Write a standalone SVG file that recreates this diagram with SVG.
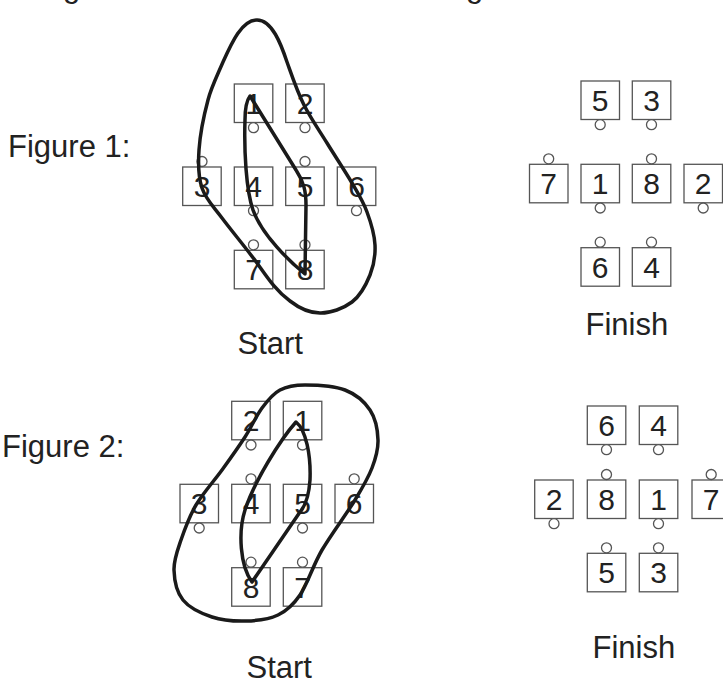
<svg xmlns="http://www.w3.org/2000/svg" width="723" height="685" viewBox="0 0 723 685">
<style>
.box{fill:#fff;stroke:#555;stroke-width:1.3}
.pin{fill:#fff;stroke:#555;stroke-width:1.3}
.num{font-family:"Liberation Sans",Arial,sans-serif;font-size:30px;fill:#222;text-anchor:middle}
.lbl{font-family:"Liberation Sans",Arial,sans-serif;font-size:31px;fill:#222}
.loop{fill:none;stroke:#1a1a1a;stroke-width:3.5;stroke-linejoin:round;stroke-linecap:round}
</style>
<rect width="723" height="685" fill="#fff"/>
<text class="lbl" x="63" y="-3.5">g</text>
<text class="lbl" x="466" y="-3.5">g</text>
<text class="lbl" x="8" y="157">Figure 1:</text>
<text class="lbl" x="2" y="457">Figure 2:</text>
<text class="lbl" x="237.5" y="354">Start</text>
<text class="lbl" x="585.5" y="335">Finish</text>
<text class="lbl" x="246.5" y="678">Start</text>
<text class="lbl" x="592.5" y="658">Finish</text>

<!-- Figure 1 start -->
<g id="f1s-1"><rect class="box" x="234.3" y="84" width="38.5" height="38.5"/><text class="num" x="253.5" y="114">1</text><circle class="pin" cx="253.5" cy="127.7" r="5"/></g>
<g id="f1s-2"><rect class="box" x="285.7" y="84" width="38.5" height="38.5"/><text class="num" x="305" y="114">2</text><circle class="pin" cx="305" cy="127.7" r="5"/></g>
<g id="f1s-3"><rect class="box" x="182.7" y="167" width="38.5" height="38.5"/><text class="num" x="202" y="197">3</text><circle class="pin" cx="202" cy="161.5" r="5"/></g>
<g id="f1s-4"><rect class="box" x="234.3" y="167" width="38.5" height="38.5"/><text class="num" x="253.5" y="197">4</text><circle class="pin" cx="253.5" cy="210.7" r="5"/></g>
<g id="f1s-5"><rect class="box" x="285.7" y="167" width="38.5" height="38.5"/><text class="num" x="305" y="197">5</text><circle class="pin" cx="305" cy="161.5" r="5"/></g>
<g id="f1s-6"><rect class="box" x="337.3" y="167" width="38.5" height="38.5"/><text class="num" x="356.5" y="197">6</text><circle class="pin" cx="356.5" cy="210.7" r="5"/></g>
<g id="f1s-7"><rect class="box" x="234.3" y="250.3" width="38.5" height="38.5"/><text class="num" x="253.5" y="280.3">7</text><circle class="pin" cx="253.5" cy="244.8" r="5"/></g>
<g id="f1s-8"><rect class="box" x="285.7" y="250.3" width="38.5" height="38.5"/><text class="num" x="305" y="280.3">8</text><circle class="pin" cx="305" cy="244.8" r="5"/></g>

<!-- Figure 1 finish -->
<g id="f1f-5"><rect class="box" x="581" y="81" width="38.5" height="38.5"/><text class="num" x="600.2" y="111">5</text><circle class="pin" cx="600.2" cy="124.7" r="5"/></g>
<g id="f1f-3"><rect class="box" x="632.3" y="81" width="38.5" height="38.5"/><text class="num" x="651.5" y="111">3</text><circle class="pin" cx="651.5" cy="124.7" r="5"/></g>
<g id="f1f-7"><rect class="box" x="529.5" y="164.3" width="38.5" height="38.5"/><text class="num" x="548.7" y="194.3">7</text><circle class="pin" cx="548.7" cy="158.8" r="5"/></g>
<g id="f1f-1"><rect class="box" x="581" y="164.3" width="38.5" height="38.5"/><text class="num" x="600.2" y="194.3">1</text><circle class="pin" cx="600.2" cy="208" r="5"/></g>
<g id="f1f-8"><rect class="box" x="632.3" y="164.3" width="38.5" height="38.5"/><text class="num" x="651.5" y="194.3">8</text><circle class="pin" cx="651.5" cy="158.8" r="5"/></g>
<g id="f1f-2"><rect class="box" x="684" y="164.3" width="38.5" height="38.5"/><text class="num" x="703.2" y="194.3">2</text><circle class="pin" cx="703.2" cy="208" r="5"/></g>
<g id="f1f-6"><rect class="box" x="581" y="247.7" width="38.5" height="38.5"/><text class="num" x="600.2" y="277.7">6</text><circle class="pin" cx="600.2" cy="242.2" r="5"/></g>
<g id="f1f-4"><rect class="box" x="632.3" y="247.7" width="38.5" height="38.5"/><text class="num" x="651.5" y="277.7">4</text><circle class="pin" cx="651.5" cy="242.2" r="5"/></g>

<!-- Figure 2 start -->
<g id="f2s-2"><rect class="box" x="231.7" y="401.3" width="38.5" height="38.5"/><text class="num" x="251" y="431.3">2</text><circle class="pin" cx="251" cy="445" r="5"/></g>
<g id="f2s-1"><rect class="box" x="283.3" y="401.3" width="38.5" height="38.5"/><text class="num" x="302.5" y="431.3">1</text><circle class="pin" cx="302.5" cy="445" r="5"/></g>
<g id="f2s-3"><rect class="box" x="180" y="484.3" width="38.5" height="38.5"/><text class="num" x="199.2" y="514.3">3</text><circle class="pin" cx="199.2" cy="528" r="5"/></g>
<g id="f2s-4"><rect class="box" x="231.7" y="484.3" width="38.5" height="38.5"/><text class="num" x="251" y="514.3">4</text><circle class="pin" cx="251" cy="478.8" r="5"/></g>
<g id="f2s-5"><rect class="box" x="283.3" y="484.3" width="38.5" height="38.5"/><text class="num" x="302.5" y="514.3">5</text><circle class="pin" cx="302.5" cy="528" r="5"/></g>
<g id="f2s-6"><rect class="box" x="335" y="484.3" width="38.5" height="38.5"/><text class="num" x="354.2" y="514.3">6</text><circle class="pin" cx="354.2" cy="478.8" r="5"/></g>
<g id="f2s-8"><rect class="box" x="231.7" y="567.7" width="38.5" height="38.5"/><text class="num" x="251" y="597.7">8</text><circle class="pin" cx="251" cy="562.2" r="5"/></g>
<g id="f2s-7"><rect class="box" x="283.3" y="567.7" width="38.5" height="38.5"/><text class="num" x="302.5" y="597.7">7</text><circle class="pin" cx="302.5" cy="562.2" r="5"/></g>

<!-- Figure 2 finish -->
<g id="f2f-6"><rect class="box" x="587.3" y="406" width="38.5" height="38.5"/><text class="num" x="606.5" y="436">6</text><circle class="pin" cx="606.5" cy="449.7" r="5"/></g>
<g id="f2f-4"><rect class="box" x="639.3" y="406" width="38.5" height="38.5"/><text class="num" x="658.5" y="436">4</text><circle class="pin" cx="658.5" cy="449.7" r="5"/></g>
<g id="f2f-2"><rect class="box" x="534.7" y="480" width="38.5" height="38.5"/><text class="num" x="554" y="510">2</text><circle class="pin" cx="554" cy="523.7" r="5"/></g>
<g id="f2f-8"><rect class="box" x="587.3" y="480" width="38.5" height="38.5"/><text class="num" x="606.5" y="510">8</text><circle class="pin" cx="606.5" cy="474.5" r="5"/></g>
<g id="f2f-1"><rect class="box" x="639.3" y="480" width="38.5" height="38.5"/><text class="num" x="658.5" y="510">1</text><circle class="pin" cx="658.5" cy="523.7" r="5"/></g>
<g id="f2f-7"><rect class="box" x="692" y="480" width="38.5" height="38.5"/><text class="num" x="711.2" y="510">7</text><circle class="pin" cx="711.2" cy="474.5" r="5"/></g>
<g id="f2f-5"><rect class="box" x="587.3" y="553.3" width="38.5" height="38.5"/><text class="num" x="606.5" y="583.3">5</text><circle class="pin" cx="606.5" cy="547.8" r="5"/></g>
<g id="f2f-3"><rect class="box" x="639.3" y="553.3" width="38.5" height="38.5"/><text class="num" x="658.5" y="583.3">3</text><circle class="pin" cx="658.5" cy="547.8" r="5"/></g>

<g id="connectors">
<path class="loop" d="M208,100 C204,115 200,135.3 199,150 C198,164.7 198.2,176.7 202,188 C205.8,199.3 212.8,205.7 222,218 C231.2,230.3 246,248 257,263 C267,277 276,291 290,301 C299,308 309,313 320,313 C330.3,313.3 343.7,308.3 352,302 C360.3,295.7 366.2,284.5 370,275 C373.8,265.5 375.5,255.5 375,245 C374.5,234.5 370.8,222.3 367,212 C363.2,201.7 358.7,194.5 352,183 C345.3,171.5 335,156 327,143 C319,130 311,118.8 304,105 C297,91.2 292,76 287,62 C281,44 272,20 257,20 C242,20 232,42 223,62 C217,76 211,88 208,100 Z"/>
<path class="loop" d="M250,96 L296,170 C304,182 306,192 306,205 L305,274 C290,262 262,235 253,210 C246,190 244,150 245,120 C245,108 247,100 250,96 Z"/>
<path class="loop" d="M305,385 C315.8,385 334.2,385.8 345,390 C355.8,394.2 364.5,401.7 370,410 C375.5,418.3 377.7,430.3 378,440 C378.3,449.7 375.8,458 372,468 C368.2,478 363.3,486.3 355,500 C346.7,513.7 331.2,534.2 322,550 C312.8,565.8 307.3,584.2 300,595 C292.7,605.8 287,610.7 278,615 C269,619.3 257,620.7 246,621 C235,621.3 222.5,620.5 212,617 C201.5,613.5 189.3,607.8 183,600 C176.7,592.2 174.3,580 174,570 C173.7,560 177.3,550.8 181,540 C184.7,529.2 189.2,516.7 196,505 C202.8,493.3 213.8,481.3 222,470 C230.2,458.7 238.3,447.3 245,437 C251.7,426.7 256.2,415.8 262,408 C267.8,400.2 272.8,393.8 280,390 C287.2,386.2 294.2,385 305,385 Z"/>
<path class="loop" d="M296,422 C306,430 311,455 310,480 C309,495 306,505 300,512 L252,582 C240,566 238,532 245,510 C254,482 280,440 296,422 Z"/>
</g>
</svg>
